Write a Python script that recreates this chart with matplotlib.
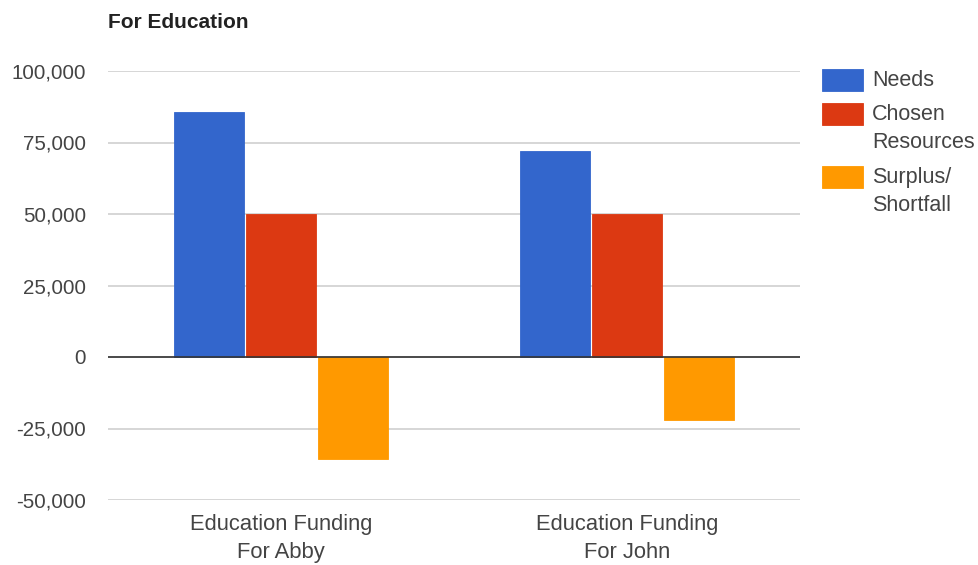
import matplotlib
matplotlib.use("Agg")
import matplotlib.pyplot as plt
from matplotlib.patches import Rectangle
from matplotlib.ticker import FuncFormatter, FixedLocator
import numpy as np

plt.rcParams['font.family'] = ['Liberation Sans', 'DejaVu Sans']

categories = ["Education Funding\nFor Abby", "Education Funding\nFor John"]
series_names = ["Needs", "Chosen\nResources", "Surplus/\nShortfall"]
needs = [85700, 72000]
chosen = [50000, 50000]
surplus = [-35700, -22000]
colors = ["#3366CC", "#DC3912", "#FF9900"]
yticks = [-50000, -25000, 0, 25000, 50000, 75000, 100000]

W, H = 979, 565
fig = plt.figure(figsize=(W / 100, H / 100), dpi=100)
L, R, T, B = 108, 800, 71, 500
ax = fig.add_axes([L / W, (H - B) / H, (R - L) / W, (B - T) / H])

x = np.arange(len(categories))
group_px = 346.0
pitch = 72 / group_px
bw = 70 / group_px
all_series = [needs, chosen, surplus]
for i, (vals, c) in enumerate(zip(all_series, colors)):
    ax.bar(x + (i - 1) * pitch, vals, width=bw, color=c, zorder=3,
           edgecolor=c, linewidth=0.6)

ax.set_xlim(-0.5, len(categories) - 0.5)
ax.set_ylim(-50000, 100000)
ax.yaxis.set_major_locator(FixedLocator(yticks))
ax.yaxis.set_major_formatter(FuncFormatter(lambda v, p: f"{int(v):,}"))
ax.set_xticks(x)
ax.set_xticklabels(categories, linespacing=1.45)
ax.tick_params(axis='both', length=0, colors="#444444")
ax.tick_params(axis='y', pad=16, labelsize=14.8)
ax.tick_params(axis='x', pad=10, labelsize=15.8)
for s in ax.spines.values():
    s.set_visible(False)
ax.grid(axis='y', color="#CCCCCC", linewidth=1.1, zorder=0)
ax.axhline(0, color="#333333", linewidth=1.2, zorder=4)

fig.text(L / W, 1 - 23 / H, "For Education", fontsize=15, fontweight='bold',
         color="#222222", va='center', ha='left')

# legend
box_x, box_w, box_h, text_x = 822, 41, 22, 872
tops = [69, 103, 166]
for name, c, top in zip(series_names, colors, tops):
    fig.patches.append(Rectangle((box_x / W, 1 - (top + box_h) / H), box_w / W, box_h / H,
                                 transform=fig.transFigure, facecolor=c, edgecolor=c,
                                 linewidth=0.6))
    fig.text(text_x / W, 1 - (top + 1) / H, name, fontsize=15.5, color="#444444",
             va='top', ha='left', linespacing=1.45)

fig.savefig("out.png", dpi=100)
